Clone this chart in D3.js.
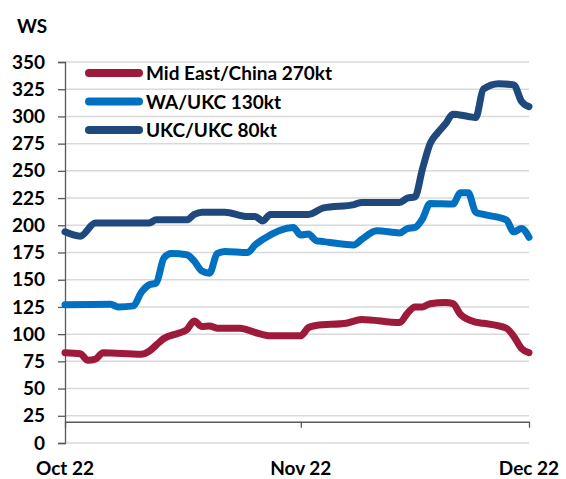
<!DOCTYPE html>
<html>
<head>
<meta charset="utf-8">
<script src="https://cdn.jsdelivr.net/npm/d3@7"></script>
<style>
  body { margin: 0; background: #fff; }
  text { font-family: Lato, "DejaVu Sans", sans-serif; font-weight: bold; fill: #000; }
</style>
</head>
<body>
<script>
var svgWidth = 566;
var svgHeight = 479;

// series names (legend order)
var seriesNames = ["Mid East/China 270kt", "WA/UKC 130kt", "UKC/UKC 80kt"];
var seriesColors = ["#9e1a3a", "#0070c0", "#1f497d"];

// Mid East/China 270kt
var meDates = ["2022-10-01","2022-10-03","2022-10-04","2022-10-05","2022-10-06","2022-10-11","2022-10-12","2022-10-13","2022-10-14","2022-10-16","2022-10-17","2022-10-18","2022-10-19","2022-10-20","2022-10-21","2022-10-24","2022-10-26","2022-10-28","2022-11-01","2022-11-02","2022-11-03","2022-11-07","2022-11-09","2022-11-14","2022-11-15","2022-11-16","2022-11-17","2022-11-18","2022-11-20","2022-11-21","2022-11-22","2022-11-24","2022-11-25","2022-11-28","2022-11-29","2022-11-30","2022-12-01"];
var meValues = [83, 82, 76, 77, 83, 81.5, 84, 90, 96, 101, 104, 112, 107, 107.5, 105.5, 105.5, 101.5, 98.5, 98.5, 106, 108, 110, 113.5, 110.6, 119, 125, 125, 128, 129, 128, 118, 111, 110, 105.5, 98, 87, 83];

// WA/UKC 130kt
var waDates = ["2022-10-01","2022-10-07","2022-10-08","2022-10-10","2022-10-11","2022-10-12","2022-10-13","2022-10-14","2022-10-15","2022-10-17","2022-10-18","2022-10-19","2022-10-20","2022-10-21","2022-10-22","2022-10-25","2022-10-26","2022-10-27","2022-10-31","2022-11-01","2022-11-02","2022-11-03","2022-11-04","2022-11-08","2022-11-09","2022-11-11","2022-11-14","2022-11-15","2022-11-16","2022-11-17","2022-11-18","2022-11-21","2022-11-22","2022-11-23","2022-11-24","2022-11-25","2022-11-28","2022-11-29","2022-11-30","2022-12-01"];
var waValues = [127, 127.5, 125, 126, 138, 145, 147, 170, 174, 173, 167, 158, 156, 174, 176, 175, 182, 187, 198, 191, 192, 186, 185, 182, 187, 195, 193, 197, 198, 206, 220, 219.5, 230, 230, 212, 210, 205, 194, 197, 189];

// UKC/UKC 80kt
var ukDates = ["2022-10-01","2022-10-03","2022-10-05","2022-10-12","2022-10-13","2022-10-17","2022-10-18","2022-10-19","2022-10-22","2022-10-25","2022-10-26","2022-10-27","2022-10-28","2022-11-02","2022-11-04","2022-11-08","2022-11-09","2022-11-14","2022-11-15","2022-11-16","2022-11-17","2022-11-18","2022-11-19","2022-11-20","2022-11-21","2022-11-23","2022-11-24","2022-11-25","2022-11-27","2022-11-29","2022-11-30","2022-12-01"];
var ukValues = [194, 190, 202, 202, 205, 205, 210, 212, 212, 208, 208, 204, 210, 210, 216, 219, 221, 221, 225, 226, 252, 275, 285, 293, 302, 300, 299, 325, 330, 329, 314, 309];

// axis ticks
var yTicks = [0, 25, 50, 75, 100, 125, 150, 175, 200, 225, 250, 275, 300, 325, 350];
var xTickDates = ["2022-10-01", "2022-11-01", "2022-12-01"];
var xTickLabels = ["Oct 22", "Nov 22", "Dec 22"];
var xAxisAt = 19.5; // value where the date axis crosses

var parseDate = d3.timeParse("%Y-%m-%d");

var chartMargin = { top: 62, right: 37, bottom: 36, left: 65 };
var chartWidth = svgWidth - chartMargin.left - chartMargin.right;
var chartHeight = svgHeight - chartMargin.top - chartMargin.bottom;

var svg = d3.select("body").append("svg")
    .attr("width", svgWidth)
    .attr("height", svgHeight);

var chartGroup = svg.append("g")
    .attr("transform", `translate(${chartMargin.left}, ${chartMargin.top})`);

var xScale = d3.scaleTime()
    .domain([parseDate("2022-10-01"), parseDate("2022-12-01")])
    .range([0, chartWidth]);

var yScale = d3.scaleLinear()
    .domain([0, 350])
    .range([chartHeight, 0]);

// gridlines
chartGroup.append("g")
    .selectAll("line")
    .data(yTicks)
    .enter()
    .append("line")
    .attr("x1", 0)
    .attr("x2", chartWidth)
    .attr("y1", d => yScale(d))
    .attr("y2", d => yScale(d))
    .attr("stroke", "#d9d9d9")
    .attr("stroke-width", 1.5);

// y axis
var yAxis = chartGroup.append("g")
    .call(d3.axisLeft(yScale).tickValues(yTicks).tickSize(7).tickPadding(13));
yAxis.select(".domain").attr("stroke", "#595959").attr("stroke-width", 1.3);
yAxis.selectAll(".tick line").attr("stroke", "#595959").attr("stroke-width", 1.3);
yAxis.selectAll(".tick text").style("font-size", "19px");

// x axis, crossing above zero
var xAxis = chartGroup.append("g")
    .attr("transform", `translate(0,${yScale(xAxisAt)})`)
    .call(d3.axisBottom(xScale)
        .tickValues(xTickDates.map(parseDate))
        .tickSizeInner(6)
        .tickSizeOuter(0)
        .tickFormat((d, i) => ""));
xAxis.select(".domain").attr("stroke", "#595959").attr("stroke-width", 1.5);
xAxis.selectAll(".tick line").attr("stroke", "#595959").attr("stroke-width", 1.3);

// x labels sit below the plot
chartGroup.append("g")
    .selectAll("text")
    .data(xTickDates)
    .enter()
    .append("text")
    .attr("x", d => xScale(parseDate(d)))
    .attr("y", chartHeight + 32)
    .attr("text-anchor", "middle")
    .style("font-size", "19px")
    .text((d, i) => xTickLabels[i]);

// unit label
svg.append("text")
    .attr("x", 17)
    .attr("y", 33)
    .style("font-size", "19px")
    .text("WS");

// lines
var allSeries = [
    { dates: meDates, values: meValues },
    { dates: waDates, values: waValues },
    { dates: ukDates, values: ukValues }
];

var line = d3.line()
    .x(d => xScale(d[0]))
    .y(d => yScale(d[1]))
    .curve(d3.curveMonotoneX);

allSeries.forEach((s, i) => {
    var pts = s.dates.map((d, j) => [parseDate(d), s.values[j]]);
    chartGroup.append("path")
        .datum(pts)
        .attr("fill", "none")
        .attr("stroke", seriesColors[i])
        .attr("stroke-width", 7)
        .attr("stroke-linejoin", "round")
        .attr("stroke-linecap", "round")
        .attr("d", line);
});

// legend
var legend = svg.append("g")
    .attr("transform", "translate(89, 73)");

var legendItems = legend.selectAll("g")
    .data(seriesNames)
    .enter()
    .append("g")
    .attr("transform", (d, i) => `translate(0, ${i * 28.5})`);

legendItems.append("line")
    .attr("x1", 0)
    .attr("x2", 50)
    .attr("stroke", (d, i) => seriesColors[i])
    .attr("stroke-width", 8)
    .attr("stroke-linecap", "round");

legendItems.append("text")
    .attr("x", 57)
    .attr("y", 7)
    .style("font-size", "19px")
    .text(d => d);
</script>
</body>
</html>
